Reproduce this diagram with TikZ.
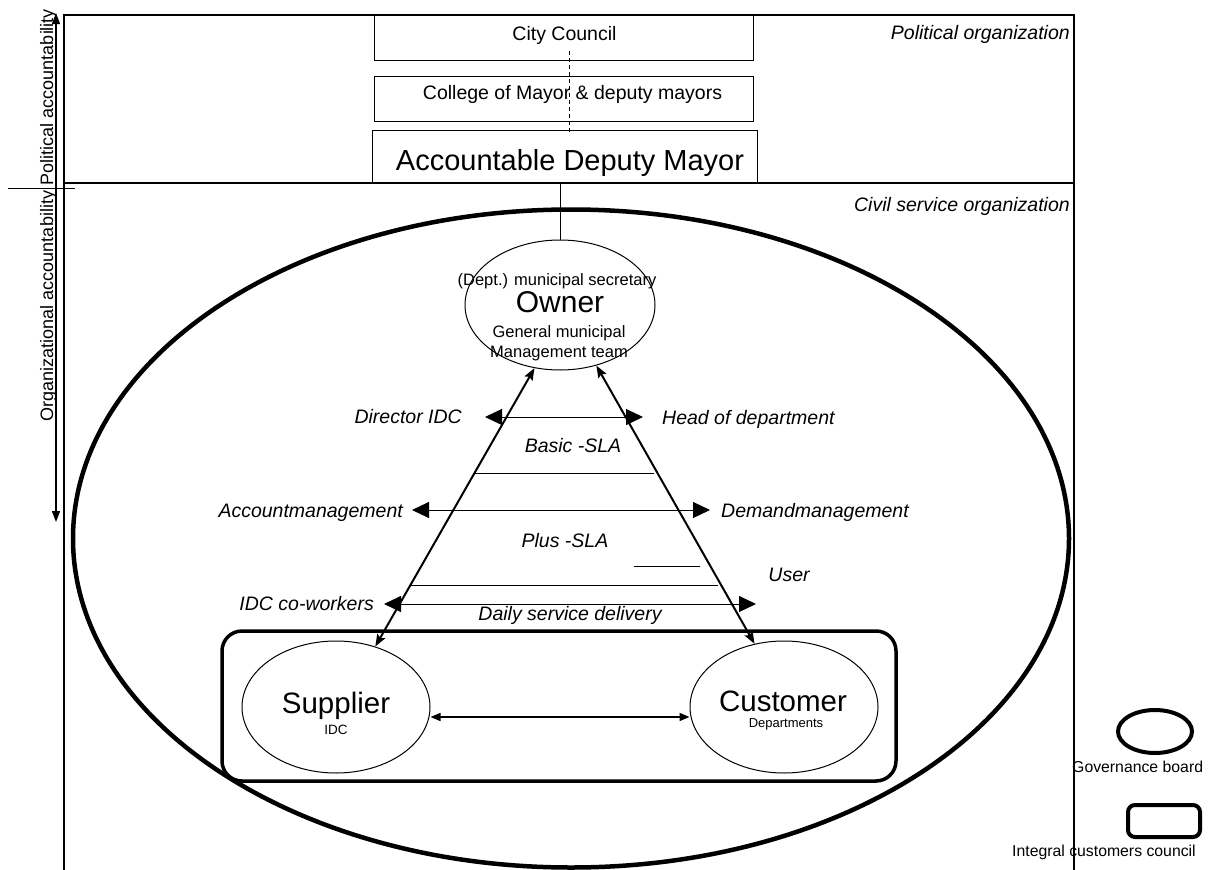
\documentclass[tikz,border=0pt]{standalone}
\usepackage{fontspec}
\setmainfont{Liberation Sans}
\usetikzlibrary{arrows.meta,shapes.geometric}
\begin{document}
\begin{tikzpicture}[x=1pt,y=-1pt,
  lbl/.style={font=\fontsize{19.5}{23}\selectfont, inner sep=0},
  ilbl/.style={font=\fontsize{19.5}{23}\selectfont\itshape, inner sep=0},
  bigl/.style={font=\fontsize{29.5}{34}\selectfont, inner sep=0},
  midl/.style={font=\fontsize{16.5}{19}\selectfont, inner sep=0},
  tinyl/.style={font=\fontsize{13.5}{16}\selectfont, inner sep=0},
  legl/.style={font=\fontsize{15.8}{18}\selectfont, inner sep=0},
  sidel/.style={font=\fontsize{18}{21}\selectfont, inner sep=0, rotate=90, anchor=base},
  boxn/.style={draw, line width=1pt, rectangle, inner sep=0},
  ellthin/.style={draw, line width=1pt, ellipse, inner sep=0},
  bigarr/.style={line width=1pt, arrows={Triangle[length=17pt,width=16pt]-Triangle[length=17pt,width=16pt]}},
  sidearr/.style={line width=2pt, arrows={Stealth[length=12pt,width=9pt,inset=2pt]-Stealth[length=12pt,width=9pt,inset=2pt]}},
  framel/.style={line width=1.3pt},
  thinl/.style={line width=1pt}
]
\useasboundingbox (0,0) rectangle (1213,870);

% frame
\coordinate (ftl) at (64,15);
\coordinate (ftr) at (1074,15);
\coordinate (fbl) at (64,870);
\coordinate (fbr) at (1074,870);
\coordinate (fml) at (64,183);
\coordinate (fmr) at (1074,183);
\draw[framel] (fbl) -- (ftl) -- (ftr) -- (fbr);
\draw[line width=2pt] (fml) -- (fmr);
\coordinate (tk1) at (8,188);
\coordinate (tk2) at (75,188);
\draw[thinl] (tk1) -- (tk2);

% accountability arrows
\coordinate (acc0) at (56,188);
\coordinate (acc1) at (56,13);
\coordinate (acc2) at (56,522);
\draw[line width=1.2pt, -{Triangle[length=11pt,width=8pt]}] (acc0) -- (acc1);
\draw[line width=1.2pt, -{Triangle[length=11pt,width=8pt]}] (acc0) -- (acc2);
\node[sidel] (polacc) at (53,97) {Political accountability};
\node[sidel] (orgacc) at (53,306) {Organizational accountability};

% political boxes
\node[boxn, minimum width=379pt, minimum height=45pt] (cc) at (563.5,37.5) {};
\node[boxn, minimum width=379pt, minimum height=45pt] (col) at (563.5,98.5) {};
\node[boxn, minimum width=385pt, minimum height=52pt] (adm) at (564.5,156) {};
\node[lbl, anchor=base] (cct) at (564.5,40) {City Council};
\node[lbl, anchor=base] (colt) at (572.5,99) {College of Mayor \& deputy mayors};
\node[font=\fontsize{29}{34}\selectfont, inner sep=0, anchor=base] (admt) at (570,170) {Accountable Deputy Mayor};
\coordinate (d1) at (569,51);
\coordinate (d2) at (569,135);
\draw[thinl, dash pattern=on 4pt off 3pt] (d1) -- (d2);

\node[ilbl, anchor=base east] (polorg) at (1070,39) {Political organization};
\node[ilbl, anchor=base east] (civorg) at (1070,211) {Civil service organization};

% governance board ellipse
\node[draw, ellipse, line width=4.5pt, minimum width=996pt, minimum height=658pt, inner sep=0] (gov) at (571,538.5) {};

% owner
\node[ellthin, minimum width=190pt, minimum height=130pt] (owner) at (560,305) {};
\draw[thinl] (owner.north) -- (owner.north |- adm.south);
\node[midl, anchor=base] (sec) at (557,285.5) {(Dept.) municipal secretary};
\node[font=\fontsize{30}{34}\selectfont, inner sep=0, anchor=base] (ownt) at (560,312) {Owner};
\node[midl, anchor=base] (gm1) at (559,337) {General municipal};
\node[midl, anchor=base] (gm2) at (559,357) {Management team};

% integral customers council
\node[draw, rectangle, rounded corners=20pt, line width=3.5pt, minimum width=674pt, minimum height=150pt, inner sep=0] (icc) at (559,706) {};
\node[ellthin, minimum width=188pt, minimum height=132pt] (sup) at (336,707) {};
\node[ellthin, minimum width=188pt, minimum height=132pt] (cus) at (784,707) {};
\node[bigl, anchor=base] (supt) at (336,713) {Supplier};
\node[tinyl, anchor=base] (supt2) at (336,734) {IDC};
\node[bigl, anchor=base] (cust) at (783,711) {Customer};
\node[font=\fontsize{13}{15}\selectfont, inner sep=0, anchor=base] (cust2) at (786,727) {Departments};
\draw[line width=1.5pt, arrows={Triangle[length=10pt,width=8pt]-Triangle[length=10pt,width=8pt]}] ([yshift=-10pt]sup.east) -- ([yshift=-10pt]cus.west);

% triangle sides
\draw[sidearr] (sup.57.9) -- (owner.-112.6);
\draw[sidearr] (cus.115.8) -- (owner.-59.6);

% levels
\coordinate (dl) at (485,417);
\coordinate (dr) at (643,417);
\draw[bigarr] (dl) -- (dr);
\node[ilbl, anchor=base east] (dir) at (462,423) {Director IDC};
\node[ilbl, anchor=base west] (hod) at (662,424) {Head of department};
\node[ilbl, anchor=base] (basic) at (573,452) {Basic -SLA};

\coordinate (b1) at (475,473);
\coordinate (b2) at (654,473);
\draw[thinl] (b1) -- (b2);

\coordinate (al) at (412,510);
\coordinate (ar) at (710,510);
\draw[bigarr] (al) -- (ar);
\node[ilbl, anchor=base east] (accm) at (403,517) {Accountmanagement};
\node[ilbl, anchor=base west] (demm) at (721,517) {Demandmanagement};
\node[ilbl, anchor=base] (plus) at (565,547) {Plus -SLA};

\coordinate (s1) at (634,566);
\coordinate (s2) at (700,566);
\draw[thinl] (s1) -- (s2);
\node[ilbl, anchor=base] (user) at (789,581) {User};

\coordinate (p1) at (411,585);
\coordinate (p2) at (718,585);
\draw[thinl] (p1) -- (p2);

\coordinate (il) at (384,604);
\coordinate (ir) at (756,604);
\draw[bigarr] (il) -- (ir);
\node[ilbl, anchor=base east] (idcw) at (374,610) {IDC co-workers};
\node[ilbl, anchor=base] (daily) at (570,620) {Daily service delivery};

% legend
\node[draw, ellipse, line width=4pt, minimum width=74pt, minimum height=43pt, inner sep=0] (legell) at (1155,731.5) {};
\node[legl, anchor=base west] (legellt) at (1072,772) {Governance board};
\node[draw, rectangle, rounded corners=7pt, line width=4pt, minimum width=72pt, minimum height=32pt, inner sep=0] (legrect) at (1164,821) {};
\node[legl, anchor=base west] (legrectt) at (1012,856) {Integral customers council};
\end{tikzpicture}
\end{document}
